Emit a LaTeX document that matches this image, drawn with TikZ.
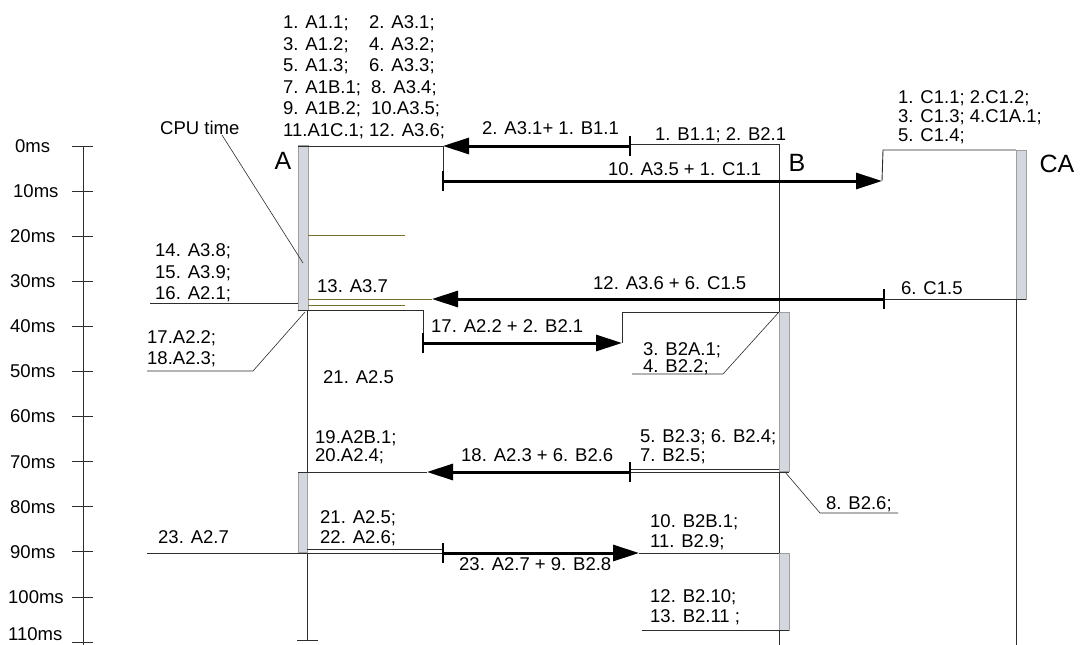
\documentclass[tikz,border=0pt]{standalone}
\usepackage{fontspec}
\setmainfont{Liberation Sans}
\usetikzlibrary{arrows.meta}
\definecolor{linec}{RGB}{45,45,45}
\definecolor{olivec}{RGB}{120,110,45}
\definecolor{actc}{RGB}{212,216,222}
\begin{document}
\begin{tikzpicture}[x=1pt,y=-1pt,
  lbl/.style={anchor=base west,inner sep=0pt,font=\fontsize{18.5}{22}\selectfont},
  axlbl/.style={anchor=west,inner sep=0pt,font=\fontsize{18.5}{22}\selectfont},
  head/.style={inner sep=0pt,font=\fontsize{25}{28}\selectfont},
  ln/.style={draw=linec,line width=0.9pt},
  oln/.style={draw=olivec,line width=0.9pt},
  msgarrow/.style={draw=black,line width=3pt,-{Triangle[length=26pt,width=16pt]}},
  tickmark/.style={draw=black,line width=2pt},
  actbox/.style={draw=gray!75,fill=actc,line width=0.6pt}]
\useasboundingbox (0,0) rectangle (1080,645);
\fill[white] (0,0) rectangle (1080,645);

% ---------- time axis ----------
\coordinate (ax0) at (83,146);
\coordinate (ax1) at (83,645);
\draw[ln] (ax0) -- (ax1);
\foreach \i/\t/\lx in {0/0ms/15,1/10ms/13,2/20ms/10,3/30ms/10,4/40ms/10,5/50ms/10,6/60ms/10,7/70ms/10,8/80ms/10,9/90ms/10,10/100ms/8}{
  \coordinate (tkl\i) at (72,{146+45.1*\i});
  \coordinate (tkr\i) at (93,{146+45.1*\i});
  \draw[ln] (tkl\i) -- (tkr\i);
  \node[axlbl] (ms\i) at (\lx,{146+45.1*\i}) {\t};
}
\coordinate (tkl11) at (72,642);
\coordinate (tkr11) at (93,642);
\draw[ln] (tkl11) -- (tkr11);
\node[axlbl] (ms11) at (8,634) {110ms};

% ---------- lifelines ----------
\coordinate (Atop) at (307,145);
\coordinate (Abot) at (307,640);
\coordinate (Abl) at (297,640);
\coordinate (Abr) at (318,640);
\coordinate (Btop) at (779,144);
\coordinate (Bbot) at (779,645);
\coordinate (Ctop) at (1016,150);
\coordinate (Cbot) at (1016,645);
\draw[ln] (Atop) -- (Abot);
\draw[ln] (Abl) -- (Abr);
\draw[ln] (Btop) -- (Bbot);
\draw[ln] (Ctop) -- (Cbot);

% ---------- activation boxes ----------
\draw[actbox] (298,145) rectangle (308,310);
\draw[actbox] (298,472) rectangle (307,552);
\draw[actbox] (779,312) rectangle (789,471);
\draw[actbox] (779,553) rectangle (789,630);
\draw[actbox] (1016,150) rectangle (1026,299);

% ---------- lifeline heads ----------
\node[head] (hA) at (283,161) {A};
\node[head] (hB) at (797,163) {B};
\node[head] (hC) at (1057,164) {CA};

% ---------- A text block ----------
\node[lbl] (a1) at (283,28.5) {1. A1.1;};
\node[lbl] (a3) at (283,50) {3. A1.2;};
\node[lbl] (a5) at (283,71.5) {5. A1.3;};
\node[lbl] (a7) at (283,93) {7. A1B.1;};
\node[lbl] (a9) at (283,114.5) {9. A1B.2;};
\node[lbl] (a11) at (283,136) {11.A1C.1;};
\node[lbl] (a2) at (369,28.5) {2. A3.1;};
\node[lbl] (a4) at (369,50) {4. A3.2;};
\node[lbl] (a6) at (369,71.5) {6. A3.3;};
\node[lbl] (a8) at (371,93) {8. A3.4;};
\node[lbl] (a10) at (371,114.5) {10.A3.5;};
\node[lbl] (a12) at (369,136) {12. A3.6;};

% CPU time
\node[lbl] (cpu) at (160,134.5) {CPU time};
\coordinate (cpuA) at (222,135);
\coordinate (cpuB) at (303,263);
\draw[ln,line width=0.6pt] (cpuA) -- (cpuB);

% ---------- message 2 (B -> A) ----------
\coordinate (m2s) at (630,146);
\coordinate (m2e) at (443,146);
\coordinate (m2a) at (298,146);
\coordinate (b0l) at (630,144);
\coordinate (b0r) at (779,144);
\draw[ln] (m2e) -- (m2a);
\draw[ln] (b0l) -- (b0r);
\draw[msgarrow] (m2s) -- (m2e);
\draw[tickmark] ([yshift=10pt]m2s) -- ([yshift=-10pt]m2s);
\node[lbl] (t2) at (482,134) {2. A3.1+ 1. B1.1};
\node[lbl] (tb1) at (655,140) {1. B1.1; 2. B2.1};

% ---------- message 10 (A -> CA) ----------
\coordinate (m10s) at (443,181);
\coordinate (m10e) at (882,181);
\coordinate (m10u) at (883,150);
\coordinate (m10c) at (1016,150);
\draw[ln] (m2e) -- (m10s);
\draw[ln] (m10e) -- (m10u) -- (m10c);
\draw[msgarrow] (m10s) -- (m10e);
\draw[tickmark] ([yshift=10pt]m10s) -- ([yshift=-10pt]m10s);
\node[lbl] (t10) at (608,175.5) {10. A3.5 + 1. C1.1};
\node[lbl] (c1) at (898,103) {1. C1.1; 2.C1.2;};
\node[lbl] (c3) at (898,122) {3. C1.3; 4.C1A.1;};
\node[lbl] (c5) at (898,141) {5. C1.4;};

% ---------- CPU-time marks on A ----------
\coordinate (o1a) at (308,235);
\coordinate (o1b) at (405,235);
\draw[oln] (o1a) -- (o1b);
\coordinate (o2a) at (308,305);
\coordinate (o2b) at (405,305);
\draw[oln] (o2a) -- (o2b);

% ---------- message 12 (CA -> A) ----------
\coordinate (m12s) at (884,299);
\coordinate (m12e) at (432,299);
\coordinate (m12a) at (308,299);
\coordinate (m12c) at (1026,299);
\draw[oln] (m12e) -- (m12a);
\draw[ln] (m12s) -- (m12c);
\draw[msgarrow] (m12s) -- (m12e);
\draw[tickmark] ([yshift=10pt]m12s) -- ([yshift=-10pt]m12s);
\node[lbl] (t12) at (593,289.5) {12. A3.6 + 6. C1.5};
\node[lbl] (t6c) at (901,294) {6. C1.5};
\node[lbl] (t13) at (317,292.5) {13. A3.7};

% left notes A
\node[lbl] (a14) at (155,256.5) {14. A3.8;};
\node[lbl] (a15) at (155,278.5) {15. A3.9;};
\node[lbl] (a16) at (155,299.5) {16. A2.1;};
\coordinate (l16a) at (150,303);
\coordinate (l16b) at (298,303);
\draw[ln] (l16a) -- (l16b);
\node[lbl] (a17) at (147,343.5) {17.A2.2;};
\node[lbl] (a18) at (147,364.5) {18.A2.3;};
\coordinate (l17a) at (147,371);
\coordinate (l17b) at (253,371);
\coordinate (l17c) at (305,312);
\draw[ln,line width=0.6pt] (l17a) -- (l17b) -- (l17c);

% ---------- message 17 (A -> B) ----------
\coordinate (m17a) at (298,310);
\coordinate (m17k) at (423,310);
\coordinate (m17s) at (423,343);
\coordinate (m17e) at (622,343);
\coordinate (m17u) at (622,312);
\coordinate (m17b) at (779,312);
\draw[ln] (m17a) -- (m17k) -- (m17s);
\draw[ln] (m17e) -- (m17u) -- (m17b);
\draw[msgarrow] (m17s) -- (m17e);
\draw[tickmark] ([yshift=10pt]m17s) -- ([yshift=-10pt]m17s);
\node[lbl] (t17) at (431,332.5) {17. A2.2 + 2. B2.1};
\node[lbl] (b3) at (643,355) {3. B2A.1;};
\node[lbl] (b4) at (643,372) {4. B2.2;};
\coordinate (l3a) at (632,374);
\coordinate (l3b) at (723,374);
\draw[ln,line width=0.6pt] (l3a) -- (l3b) -- (m17b);

\node[lbl] (a21m) at (323,383.5) {21. A2.5};

% ---------- message 18 (B -> A) ----------
\node[lbl] (a19) at (315,443.5) {19.A2B.1;};
\node[lbl] (a20) at (315,461.5) {20.A2.4;};
\node[lbl] (b5) at (640,442.5) {5. B2.3; 6. B2.4;};
\node[lbl] (b7) at (640,461) {7. B2.5;};
\coordinate (m18s) at (630,472);
\coordinate (m18e) at (427,472);
\coordinate (m18a) at (298,472);
\coordinate (d1a) at (630,469);
\coordinate (d1b) at (779,469);
\coordinate (d2b) at (789,472);
\draw[ln] (m18e) -- (m18a);
\draw[ln,line width=0.7pt] (d1a) -- (d1b);
\draw[ln,line width=0.7pt] (m18s) -- (d2b);
\draw[msgarrow] (m18s) -- (m18e);
\draw[tickmark] ([yshift=10pt]m18s) -- ([yshift=-10pt]m18s);
\node[lbl] (t18) at (461,461.5) {18. A2.3 + 6. B2.6};

% note 8. B2.6
\coordinate (l8a) at (785,472);
\coordinate (l8b) at (820,513);
\coordinate (l8c) at (898,513);
\draw[ln,line width=0.6pt] (l8a) -- (l8b) -- (l8c);
\node[lbl] (b8) at (826,509) {8. B2.6;};

% ---------- message 23 (A -> B) ----------
\node[lbl] (a21) at (320,523.5) {21. A2.5;};
\node[lbl] (a22) at (320,543) {22. A2.6;};
\node[lbl] (a23) at (158,543) {23. A2.7};
\node[lbl] (b10) at (650,527.5) {10. B2B.1;};
\node[lbl] (b11) at (650,547.5) {11. B2.9;};
\coordinate (l23a) at (147,553);
\coordinate (m23s) at (443,553);
\coordinate (m23e) at (639,553);
\coordinate (m23b) at (779,553);
\coordinate (d3a) at (307,549);
\coordinate (d3b) at (443,549);
\draw[ln] (l23a) -- (m23s);
\draw[ln,line width=0.7pt] (d3a) -- (d3b);
\draw[ln] (m23e) -- (m23b);
\draw[msgarrow] (m23s) -- (m23e);
\draw[tickmark] ([yshift=10pt]m23s) -- ([yshift=-10pt]m23s);
\node[lbl] (t23) at (459,570) {23. A2.7 + 9. B2.8};

\node[lbl] (b12) at (650,602) {12. B2.10;};
\node[lbl] (b13) at (650,622) {13. B2.11 ;};
\coordinate (l13a) at (642,630);
\coordinate (l13b) at (789,630);
\draw[ln,line width=0.7pt] (l13a) -- (l13b);
\end{tikzpicture}
\end{document}
